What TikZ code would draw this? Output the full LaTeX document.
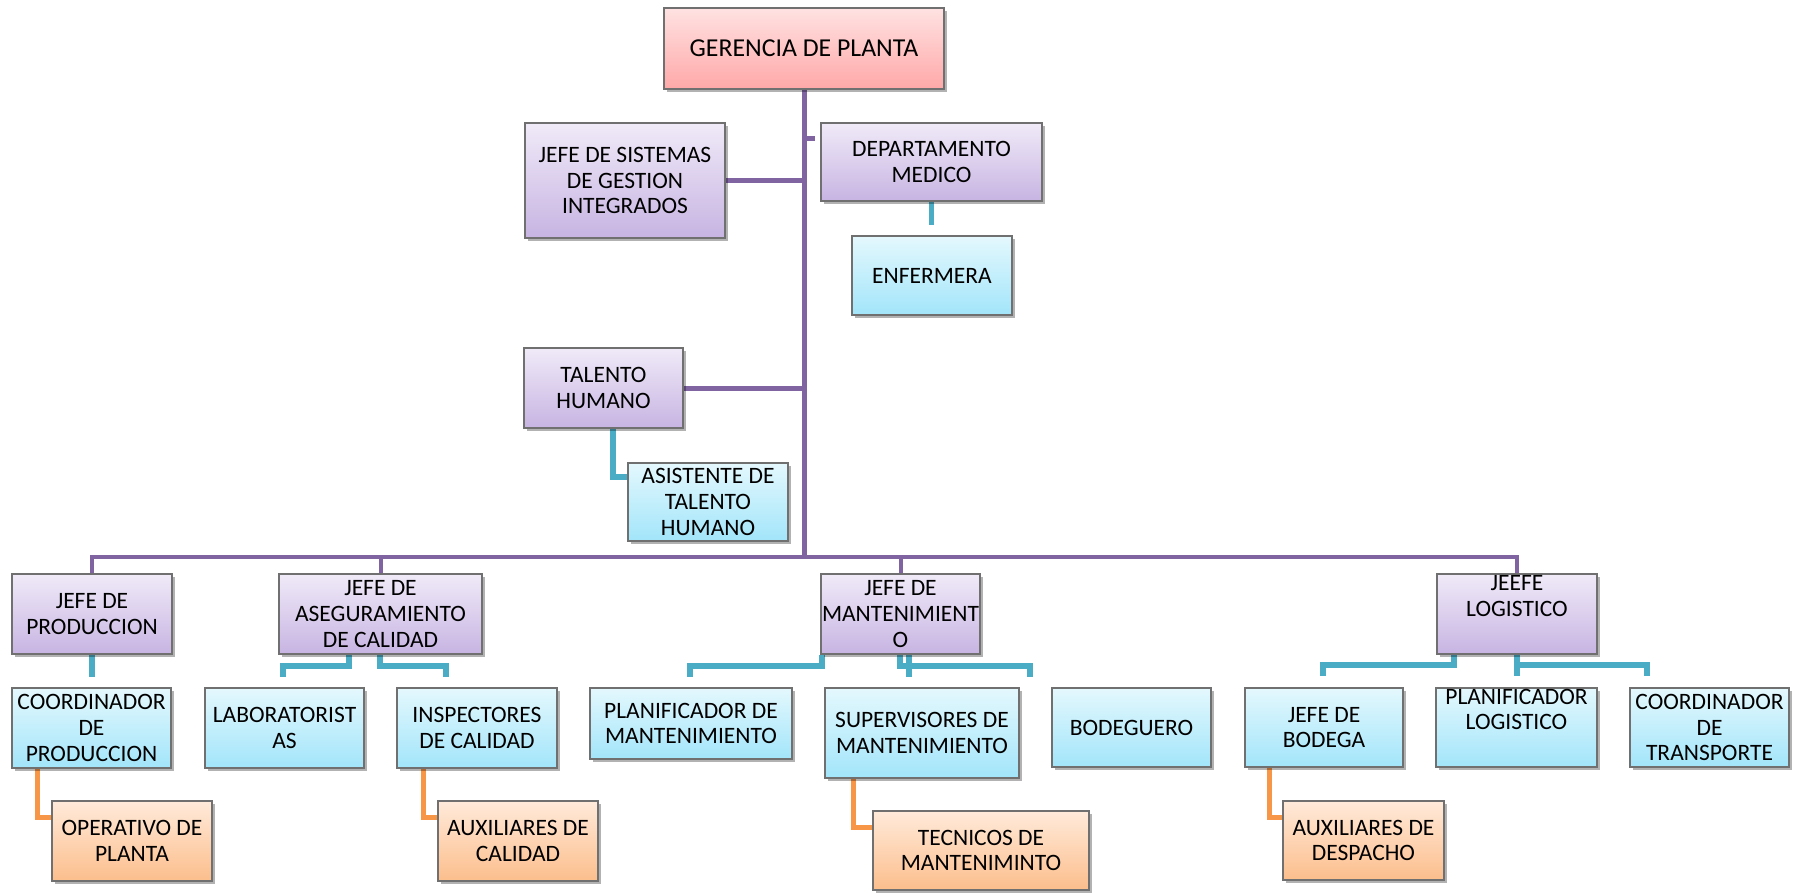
\documentclass[tikz,border=0pt]{standalone}
\usepackage{fontspec}
\setmainfont{Carlito}
\usetikzlibrary{shadows}
\definecolor{bordc}{RGB}{112,112,112}
\definecolor{pinkT}{RGB}{255,226,226}
\definecolor{pinkB}{RGB}{255,168,168}
\definecolor{purT}{RGB}{240,234,248}
\definecolor{purB}{RGB}{199,180,226}
\definecolor{cyaT}{RGB}{228,248,253}
\definecolor{cyaB}{RGB}{162,229,250}
\definecolor{oraT}{RGB}{255,234,218}
\definecolor{oraB}{RGB}{252,190,140}
\definecolor{lpur}{RGB}{128,100,162}
\definecolor{lteal}{RGB}{75,172,198}
\definecolor{lora}{RGB}{247,150,70}
\pgfdeclarelayer{bg}
\pgfsetlayers{bg,main}
\tikzset{
  txt/.style={align=center, inner sep=0pt, font=\fontsize{23.5}{25.7}\selectfont},
  boxbase/.style={txt, draw=bordc, line width=1.3pt,
    drop shadow={shadow xshift=2.5pt, shadow yshift=-3pt, opacity=0.3, fill=black}},
  pinkbox/.style={boxbase, top color=pinkT, bottom color=pinkB, font=\fontsize{25.8}{28}\selectfont},
  purbox/.style={boxbase, top color=purT, bottom color=purB},
  cyabox/.style={boxbase, top color=cyaT, bottom color=cyaB},
  orabox/.style={boxbase, top color=oraT, bottom color=oraB},
  pline/.style={draw=lpur, line width=5pt},
  busline/.style={draw=lpur, line width=4pt},
  tline/.style={draw=lteal, line width=5.5pt},
  oline/.style={draw=lora, line width=5pt}
}
\newcommand\obox[7]{\node[#2, minimum width={(#5-#3)*1pt}, minimum height={(#6-#4)*1pt}] (#1) at ({(#3+#5)/2},{(#4+#6)/2}) {#7};}
\begin{document}
\begin{tikzpicture}[x=1pt,y=-1pt]
\useasboundingbox (0,0) rectangle (1802,892);
% boxes
\obox{ger}{pinkbox}{664}{8}{944}{89}{GERENCIA DE PLANTA}
\obox{jsis}{purbox}{525}{123}{725}{238}{JEFE DE SISTEMAS\\DE GESTION\\INTEGRADOS}
\obox{dmed}{purbox}{821}{123}{1042}{201}{DEPARTAMENTO\\MEDICO}
\obox{enf}{cyabox}{852}{236}{1012}{315}{ENFERMERA}
\obox{tal}{purbox}{524}{348}{683}{428}{TALENTO\\HUMANO}
\obox{asis}{cyabox}{628}{463}{788}{541}{ASISTENTE DE\\TALENTO\\HUMANO}
\obox{jprod}{purbox}{12}{574}{172}{654}{JEFE DE\\PRODUCCION}
\obox{jcal}{purbox}{279}{574}{482}{654}{JEFE DE\\ASEGURAMIENTO\\DE CALIDAD}
\obox{jmant}{purbox}{821}{574}{980}{654}{JEFE DE\\MANTENIMIENT\\O}
\obox{jlog}{purbox}{1437}{574}{1597}{654}{}
\node[txt, yshift=18pt] (jlogt) at (jlog) {JEEFE\\LOGISTICO};
\obox{cprod}{cyabox}{12}{688}{171}{768}{COORDINADOR\\DE\\PRODUCCION}
\obox{lab}{cyabox}{205}{688}{364}{768}{LABORATORIST\\AS}
\obox{insp}{cyabox}{397}{688}{557}{768}{INSPECTORES\\DE CALIDAD}
\obox{plmant}{cyabox}{590}{688}{792}{759}{PLANIFICADOR DE\\MANTENIMIENTO}
\obox{superv}{cyabox}{825}{688}{1019}{778}{SUPERVISORES DE\\MANTENIMIENTO}
\obox{bodeg}{cyabox}{1052}{688}{1211}{767}{BODEGUERO}
\obox{jbod}{cyabox}{1245}{688}{1403}{767}{JEFE DE\\BODEGA}
\obox{pllog}{cyabox}{1436}{688}{1597}{767}{}
\node[txt, yshift=18pt] (pllogt) at (pllog) {PLANIFICADOR\\LOGISTICO};
\obox{ctrans}{cyabox}{1630}{688}{1789}{767}{COORDINADOR\\DE\\TRANSPORTE}
\obox{oper}{orabox}{52}{801}{212}{881}{OPERATIVO DE\\PLANTA}
\obox{auxcal}{orabox}{438}{801}{598}{881}{AUXILIARES DE\\CALIDAD}
\obox{tec}{orabox}{873}{811}{1089}{890}{TECNICOS DE\\MANTENIMINTO}
\obox{auxdesp}{orabox}{1283}{801}{1444}{880}{AUXILIARES DE\\DESPACHO}
% connectors
\begin{pgfonlayer}{bg}
\coordinate (bus) at (804,557);
\draw[pline] (ger.south) -- (bus);
\draw[busline] (jprod.north) |- (bus) -| (jlog.north);
\draw[busline] (jcal.north) -- (jcal.north |- bus);
\draw[busline] (jmant.north) -- (jmant.north |- bus);
\draw[pline] (jsis.east) -- (jsis.east -| bus);
\coordinate (dstub) at (815,138);
\draw[pline] (dstub -| bus) -- (dstub);
\draw[pline] (tal.east) -- (tal.east -| bus);
% teal
\draw[tline] (dmed.south) -- ++(0,23);
\coordinate (ta) at (613,477);
\draw[tline] (tal.south -| ta) -- (ta) -- (asis.west |- ta);
\draw[tline] (jprod.south) -- ++(0,22);
\coordinate (c1) at (349,666); \coordinate (c2) at (283,677);
\draw[tline] (jcal.south -| c1) -- (c1) -| (c2);
\coordinate (c3) at (380,666); \coordinate (c4) at (446,677);
\draw[tline] (jcal.south -| c3) -- (c3) -| (c4);
\coordinate (m1) at (822,666); \coordinate (m2) at (690,677);
\draw[tline] (jmant.south -| m1) -- (m1) -| (m2);
\coordinate (m3) at (900,666); \coordinate (m4) at (1030,677);
\draw[tline] (jmant.south -| m3) -- (m3) -| (m4);
\coordinate (m5) at (909,677);
\draw[tline] (jmant.south -| m5) -- (m5);
\coordinate (l1) at (1454,665); \coordinate (l2) at (1323,676);
\draw[tline] (jlog.south -| l1) -- (l1) -| (l2);
\coordinate (l3) at (1517,665); \coordinate (l4) at (1647,676);
\draw[tline] (jlog.south -| l3) -- (l3) -| (l4);
\coordinate (l5) at (1517,676);
\draw[tline] (jlog.south -| l5) -- (l5);
% orange
\coordinate (o1) at (37,817);
\draw[oline] (cprod.south -| o1) -- (o1) -- (o1 -| oper.west);
\coordinate (o2) at (423,817);
\draw[oline] (insp.south -| o2) -- (o2) -- (o2 -| auxcal.west);
\coordinate (o3) at (853,827);
\draw[oline] (superv.south -| o3) -- (o3) -- (o3 -| tec.west);
\coordinate (o4) at (1269,817);
\draw[oline] (jbod.south -| o4) -- (o4) -- (o4 -| auxdesp.west);
\end{pgfonlayer}
\end{tikzpicture}
\end{document}
